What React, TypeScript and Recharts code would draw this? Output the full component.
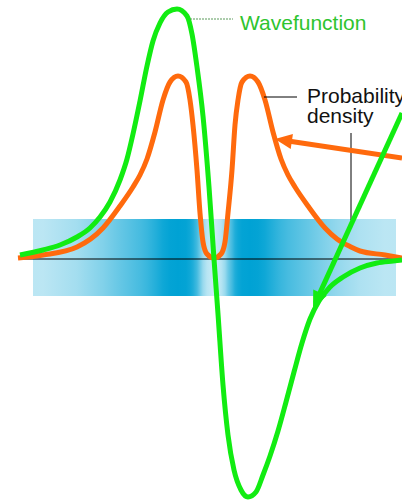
import React from "react";
import { LineChart, Line, XAxis, YAxis, ReferenceArea, ReferenceLine } from "recharts";

// wavefunction (position along the axis, amplitude)
const psiX = [20, 43, 60, 77, 90, 100, 110, 120, 127, 133, 140, 147, 153, 160, 168, 177, 187, 192, 197, 203, 209, 214, 218, 223, 228, 234, 241, 248, 256, 263, 270, 278, 286, 294, 302, 310, 319, 330, 343, 360, 377, 393, 402];
const psiY = [4, 9, 14, 22, 31, 42, 57, 79, 100, 125, 158, 193, 218, 236, 247, 250, 243, 225, 192, 143, 72, 0, -55, -126, -176, -211, -231, -238, -233, -216, -197, -172, -143, -113, -84, -60, -42, -28, -18, -9, -4, -2, -1];

// probability density
const densX = [18, 43, 77, 103, 120, 133, 140, 147, 155, 163, 170, 178, 186, 190, 193, 197, 200, 203, 207, 214, 221, 225, 228, 232, 235, 238, 242, 250, 258, 265, 273, 281, 288, 295, 308, 325, 337, 351, 360, 385, 402];
const densY = [1, 4, 12, 31, 53, 72, 84, 100, 127, 159, 177, 183, 177, 159, 134, 89, 46, 17, 5, 1, 5, 17, 46, 89, 134, 159, 177, 183, 177, 159, 127, 100, 84, 72, 53, 31, 20, 12, 8, 4, 1];

const psiData = psiX.map((x, i) => ({ x, psi: psiY[i] }));
const densData = densX.map((x, i) => ({ x, density: densY[i] }));

const GREEN = "#12ec12";
const ORANGE = "#ff6a0d";
const BAND = "#00a2d4";
const FONT = "'Liberation Sans', Arial, sans-serif";

const BAND_X0 = 33;
const BAND_X1 = 396;
const maxDens = Math.max(...densY);

// band shading follows the density
const bandStops = densX
  .filter((x) => x >= BAND_X0 && x <= BAND_X1)
  .map((x) => {
    const d = densY[densX.indexOf(x)];
    return {
      offset: (x - BAND_X0) / (BAND_X1 - BAND_X0),
      opacity: 0.14 + 0.86 * Math.pow(d / maxDens, 0.5),
    };
  });

function arrow(color: string) {
  return (p: any) => {
    const { x1, y1, x2, y2 } = p;
    const dx = x2 - x1;
    const dy = y2 - y1;
    const len = Math.sqrt(dx * dx + dy * dy);
    const ux = dx / len;
    const uy = dy / len;
    const head = 17;
    const half = 7.5;
    const bx = x2 - ux * head;
    const by = y2 - uy * head;
    const pts = `${x2},${y2} ${bx - uy * half},${by + ux * half} ${bx + uy * half},${by - ux * half}`;
    return (
      <g>
        <line x1={x1} y1={y1} x2={bx + ux * 2} y2={by + uy * 2} stroke={color} strokeWidth={5} />
        <polygon points={pts} fill={color} />
      </g>
    );
  };
}

function leader(stroke: string, dash?: string, lines?: string[], color?: string, dx = 8, dy = 11) {
  return (p: any) => {
    const { x1, y1, x2, y2 } = p;
    return (
      <g>
        <line x1={x1} y1={y1} x2={x2} y2={y2} stroke={stroke} strokeWidth={1} strokeDasharray={dash} />
        {lines && (
          <text x={x2 + dx} y={y2 + dy} fill={color} fontSize={21} fontFamily={FONT}>
            {lines.map((t, i) => (
              <tspan key={t} x={x2 + dx} dy={i === 0 ? 0 : 20}>
                {t}
              </tspan>
            ))}
          </text>
        )}
      </g>
    );
  };
}

export default function App() {
  return (
    <div style={{ position: "absolute", left: 0, top: 0, width: 402, height: 500, background: "#fff" }}>
      <LineChart width={402} height={500} margin={{ top: 0, right: 0, bottom: 0, left: 0 }}>
        <defs>
          <linearGradient id="bandFill" x1="0" y1="0" x2="1" y2="0">
            {bandStops.map((s, i) => (
              <stop key={i} offset={s.offset} stopColor={BAND} stopOpacity={s.opacity} />
            ))}
          </linearGradient>
        </defs>
        <XAxis type="number" dataKey="x" domain={[0, 402]} allowDataOverflow hide />
        <YAxis type="number" domain={[-241, 259]} allowDataOverflow hide />
        <ReferenceArea x1={BAND_X0} x2={BAND_X1} y1={-37} y2={40} fill="url(#bandFill)" fillOpacity={1} stroke="none" ifOverflow="visible" />
        <ReferenceLine segment={[{ x: 20, y: 0 }, { x: 397, y: 0 }]} stroke="#000" strokeWidth={1} ifOverflow="visible" />
        <Line data={densData} dataKey="density" type="monotone" stroke={ORANGE} strokeWidth={5} dot={false} activeDot={false} isAnimationActive={false} />
        <Line data={psiData} dataKey="psi" type="monotone" stroke={GREEN} strokeWidth={5} dot={false} activeDot={false} isAnimationActive={false} />
        <ReferenceLine
          segment={[{ x: 190, y: 240 }, { x: 233, y: 240 }]}
          ifOverflow="visible"
          shape={leader("#5a9a5a", "2 1", ["Wavefunction"], "#2ec42e", 7, 11)}
        />
        <ReferenceLine
          segment={[{ x: 264, y: 162 }, { x: 297, y: 162 }]}
          ifOverflow="visible"
          shape={leader("#000", undefined, ["Probability", "density"], "#111", 10, 6)}
        />
        <ReferenceLine segment={[{ x: 351, y: 126 }, { x: 351, y: 39 }]} ifOverflow="visible" shape={leader("#000")} />
        <ReferenceLine segment={[{ x: 402, y: 101 }, { x: 275, y: 120 }]} ifOverflow="visible" shape={arrow(ORANGE)} />
        <ReferenceLine segment={[{ x: 402, y: 146 }, { x: 313, y: -49 }]} ifOverflow="visible" shape={arrow(GREEN)} />
      </LineChart>
    </div>
  );
}
